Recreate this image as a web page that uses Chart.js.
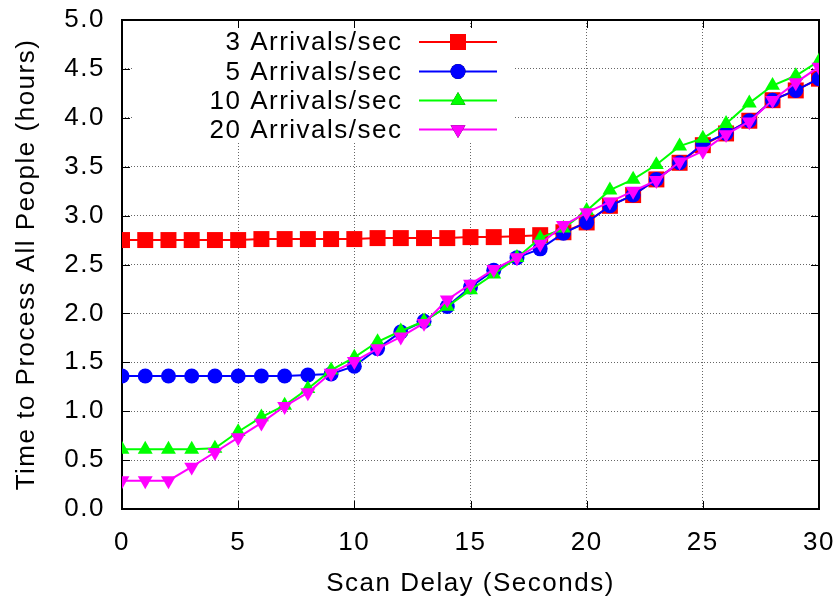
<!DOCTYPE html>
<html>
<head>
<meta charset="utf-8">
<script src="https://cdn.jsdelivr.net/npm/chart.js@4"></script>
<style>
  html, body { margin: 0; padding: 0; background: #ffffff; }
  #wrap { width: 840px; height: 600px; }
</style>
</head>
<body>
<div id="wrap"><canvas id="chart" width="840" height="600"></canvas></div>
<script>
// Scan delay in seconds (x axis)
const scanDelay = [0,1,2,3,4,5,6,7,8,9,10,11,12,13,14,15,16,17,18,19,20,21,22,23,24,25,26,27,28,29,30];

// Hours needed to process everyone, one series per arrival rate
const arrivals3 = [2.75,2.75,2.75,2.75,2.75,2.75,2.76,2.76,2.76,2.76,2.76,2.77,2.77,2.77,2.77,2.78,2.78,2.79,2.80,2.83,2.93,3.10,3.21,3.37,3.54,3.72,3.84,3.97,4.18,4.28,4.40];
const arrivals5 = [1.36,1.36,1.36,1.36,1.36,1.36,1.36,1.36,1.37,1.38,1.46,1.64,1.81,1.92,2.07,2.27,2.44,2.57,2.66,2.82,2.93,3.10,3.21,3.37,3.54,3.73,3.84,3.97,4.18,4.28,4.40];
const arrivals10 = [0.61,0.61,0.61,0.61,0.62,0.79,0.94,1.06,1.23,1.42,1.55,1.71,1.82,1.92,2.07,2.24,2.40,2.57,2.77,2.87,3.05,3.26,3.37,3.52,3.71,3.79,3.94,4.15,4.33,4.43,4.58];
const arrivals20 = [0.29,0.29,0.29,0.43,0.58,0.73,0.88,1.05,1.19,1.39,1.51,1.64,1.76,1.90,2.14,2.30,2.45,2.57,2.71,2.90,3.03,3.14,3.25,3.36,3.55,3.66,3.83,3.96,4.18,4.36,4.52];

const seriesLabels = ['3 Arrivals/sec', '5 Arrivals/sec', '10 Arrivals/sec', '20 Arrivals/sec'];

const xTitle = 'Scan Delay (Seconds)';
const yTitle = 'Time to Process All People (hours)';

const FONT = '"Liberation Sans", Arial, Helvetica, sans-serif';
const FONT_SIZE = 26;
const LETTER_SPACING = '1.5px';

function pts(ys) { return scanDelay.map((x, i) => ({ x: x, y: ys[i] })); }

function makeSeries(label, ys, color, style, radius, rotation, order) {
  return {
    label: label,
    data: pts(ys),
    borderColor: color,
    backgroundColor: color,
    borderWidth: 2,
    pointStyle: style,
    pointRadius: radius,
    pointHoverRadius: radius,
    pointRotation: rotation,
    pointBorderWidth: 0,
    pointBackgroundColor: color,
    pointBorderColor: color,
    tension: 0,
    order: order
  };
}

const datasets = [
  makeSeries(seriesLabels[0], arrivals3, '#ff0000', 'rect', 11.3, 0, 4),
  makeSeries(seriesLabels[1], arrivals5, '#0000ff', 'circle', 7.5, 0, 3),
  makeSeries(seriesLabels[2], arrivals10, '#00ff00', 'triangle', 8.6, 0, 2),
  makeSeries(seriesLabels[3], arrivals20, '#ff00ff', 'triangle', 8.6, 180, 1)
];

// slightly open lettering for every text the chart draws
const spacingPlugin = {
  id: 'spacing',
  beforeUpdate(chart) { chart.ctx.letterSpacing = LETTER_SPACING; },
  beforeDraw(chart) { chart.ctx.letterSpacing = LETTER_SPACING; }
};

// Key box, plot frame and inward tick marks in the gnuplot style
const framePlugin = {
  id: 'frame',
  beforeDatasetsDraw(chart) {
    const ctx = chart.ctx;
    const a = chart.chartArea;
    const xs = chart.scales.x, ys = chart.scales.y;

    // key box hides the grid behind it
    ctx.save();
    ctx.fillStyle = '#ffffff';
    ctx.fillRect(132, 28, 381, 115);
    ctx.restore();

    ctx.save();
    ctx.strokeStyle = '#000000';
    ctx.lineWidth = 1;
    const tl = 8;
    xs.ticks.forEach(t => {
      const px = Math.round(xs.getPixelForValue(t.value)) + 0.5;
      ctx.beginPath();
      ctx.moveTo(px, a.bottom); ctx.lineTo(px, a.bottom - tl);
      ctx.moveTo(px, a.top); ctx.lineTo(px, a.top + tl);
      ctx.stroke();
    });
    ys.ticks.forEach(t => {
      const py = Math.round(ys.getPixelForValue(t.value)) + 0.5;
      ctx.beginPath();
      ctx.moveTo(a.left, py); ctx.lineTo(a.left + tl, py);
      ctx.moveTo(a.right, py); ctx.lineTo(a.right - tl, py);
      ctx.stroke();
    });
    ctx.lineWidth = 2;
    ctx.strokeRect(a.left, a.top, a.right - a.left, a.bottom - a.top);
    ctx.restore();

    // key entries: right-aligned text, line sample with marker
    ctx.save();
    ctx.font = FONT_SIZE + 'px ' + FONT;
    ctx.textAlign = 'right';
    ctx.textBaseline = 'middle';
    const rowY = [42, 71.5, 100.5, 129.5];
    chart.data.datasets.forEach((ds, i) => {
      const y = rowY[i];
      ctx.fillStyle = '#000000';
      ctx.fillText(ds.label, 402.5, y + 1);
      ctx.strokeStyle = ds.borderColor;
      ctx.lineWidth = 2;
      ctx.beginPath();
      ctx.moveTo(419, y); ctx.lineTo(497, y);
      ctx.stroke();
      Chart.helpers.drawPoint(ctx, {
        pointStyle: ds.pointStyle,
        radius: ds.pointRadius,
        rotation: ds.pointRotation,
        borderWidth: 0
      }, 458, y);
      ctx.fillStyle = ds.backgroundColor;
      ctx.fill();
    });
    ctx.restore();
  }
};

new Chart(document.getElementById('chart'), {
  type: 'line',
  data: { datasets: datasets },
  options: {
    responsive: false,
    animation: false,
    events: [],
    layout: { padding: { top: 20, right: 21, left: 0, bottom: 0 } },
    plugins: {
      legend: { display: false },
      tooltip: { enabled: false },
      title: { display: false }
    },
    scales: {
      x: {
        type: 'linear',
        min: 0, max: 30,
        afterFit(scale) {
          scale.height = 91;
          scale.paddingLeft = 0;
          scale.paddingRight = 0;
        },
        ticks: {
          stepSize: 5,
          color: '#000000',
          padding: 18,
          maxRotation: 0,
          font: { family: FONT, size: FONT_SIZE }
        },
        grid: { color: '#666666', lineWidth: 1, drawTicks: false },
        border: { display: false, dash: [1, 2] },
        title: {
          display: true, text: xTitle, color: '#000000',
          padding: { top: 0, bottom: 1 },
          font: { family: FONT, size: FONT_SIZE }
        }
      },
      y: {
        min: 0, max: 5,
        afterFit(scale) {
          scale.width = 122;
          scale.paddingTop = 0;
          scale.paddingBottom = 0;
        },
        ticks: {
          stepSize: 0.5,
          color: '#000000',
          padding: 17,
          callback: v => v.toFixed(1),
          font: { family: FONT, size: FONT_SIZE }
        },
        grid: { color: '#666666', lineWidth: 1, drawTicks: false },
        border: { display: false, dash: [1, 2] },
        title: {
          display: true, text: yTitle, color: '#000000',
          padding: { top: 11, bottom: 0 },
          font: { family: FONT, size: FONT_SIZE }
        }
      }
    }
  },
  plugins: [spacingPlugin, framePlugin]
});
</script>
</body>
</html>
